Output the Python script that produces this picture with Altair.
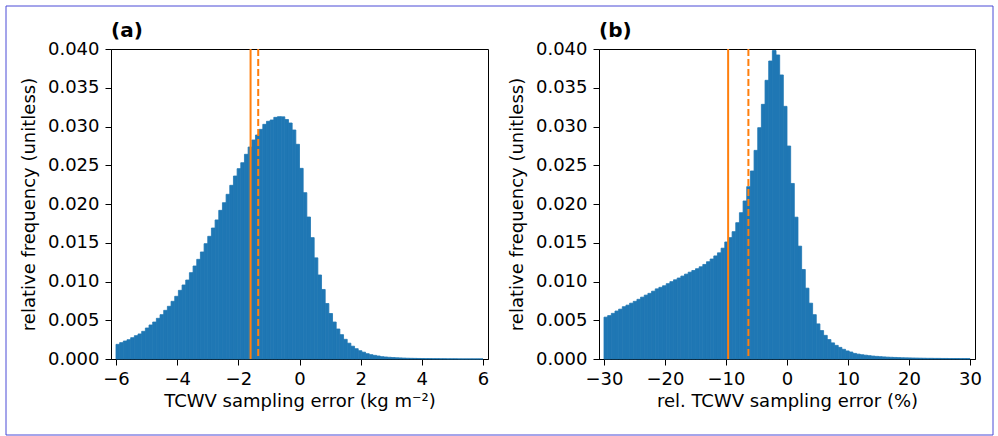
import altair as alt
import pandas as pd

# ---- data -------------------------------------------------------------
# panel (a): TCWV sampling error, 100 bins between -6 and 6
freq_a = [
    0.00189, 0.00211, 0.00232, 0.00249, 0.00275, 0.00301, 0.00323, 0.00357, 0.00400, 0.00439,
    0.00477, 0.00525, 0.00572, 0.00628, 0.00680, 0.00744, 0.00809, 0.00886, 0.00955, 0.01019,
    0.01114, 0.01200, 0.01286, 0.01381, 0.01488, 0.01583, 0.01690, 0.01794, 0.01918, 0.02017,
    0.02125, 0.02241, 0.02361, 0.02456,
    0.02533, 0.02641, 0.02735, 0.02826, 0.02890, 0.02963, 0.03028, 0.03067, 0.03084, 0.03118,
    0.03127, 0.03125, 0.03090, 0.03045, 0.02955, 0.02770,
    0.02460, 0.02146, 0.01832, 0.01566, 0.01305, 0.01084, 0.00897, 0.00716, 0.00587, 0.00477,
    0.00387, 0.00314, 0.00254, 0.00204, 0.00165, 0.00133, 0.00107, 0.00088, 0.00069, 0.00056,
    0.00047, 0.00039, 0.00030,
    0.00026, 0.00022, 0.00019, 0.00016, 0.00014, 0.00012, 0.00010, 0.00009, 0.00008, 0.00007,
    0.00006, 0.00005, 0.00005, 0.00004, 0.00004, 0.00003, 0.00003, 0.00002, 0.00002, 0.00002,
    0.00001, 0.00001, 0.00001, 0.00001, 0.00001, 0.00001, 0.00001,
]
# panel (b): relative TCWV sampling error, 100 bins between -30 and 30
freq_b = [
    0.00540, 0.00560, 0.00589, 0.00619, 0.00643, 0.00675, 0.00695, 0.00720, 0.00744, 0.00770,
    0.00798, 0.00824, 0.00847, 0.00875, 0.00905, 0.00925, 0.00945, 0.00972, 0.00998, 0.01022,
    0.01045, 0.01070, 0.01095, 0.01120, 0.01142,
    0.01165, 0.01190, 0.01220, 0.01255, 0.01290, 0.01330, 0.01370, 0.01430, 0.01510,
    0.01566, 0.01643, 0.01759, 0.01888, 0.02039, 0.02224, 0.02426, 0.02692, 0.02985, 0.03286,
    0.03596, 0.03845, 0.03980, 0.03923, 0.03665, 0.03260, 0.02748, 0.02265, 0.01830, 0.01456,
    0.01155, 0.00914, 0.00720, 0.00572, 0.00453, 0.00367, 0.00305, 0.00251, 0.00208, 0.00176,
    0.00150, 0.00125, 0.00104, 0.00090,
    0.00072, 0.00063, 0.00055, 0.00049, 0.00043, 0.00038, 0.00034, 0.00030, 0.00027, 0.00024,
    0.00022, 0.00020, 0.00018, 0.00016, 0.00015, 0.00014, 0.00013, 0.00012, 0.00011, 0.00010,
    0.00009, 0.00009, 0.00008, 0.00008, 0.00007, 0.00007, 0.00006, 0.00006, 0.00006, 0.00005,
    0.00005, 0.00005,
]
range_a = [-6, 6]
range_b = [-30, 30]
lines_a = [-1.60, -1.35]      # solid, dashed
lines_b = [-9.65, -6.33]
xticks_a = [-6, -4, -2, 0, 2, 4, 6]
xticks_b = [-30, -20, -10, 0, 10, 20, 30]
yticks = [0.0, 0.005, 0.01, 0.015, 0.02, 0.025, 0.03, 0.035, 0.04]
xtitle_a = "TCWV sampling error (kg m\u207b\u00b2)"
xtitle_b = "rel. TCWV sampling error (%)"
ytitle = "relative frequency (unitless)"

BLUE = "#1f77b4"
ORANGE = "#ff7f0e"
FONT = "DejaVu Sans"
LABEL_SIZE = 18
TITLE_SIZE = 18


def panel(freqs, xr, lines, xticks, xtitle, label, width, border=False):
    n = len(freqs)
    w = (xr[1] - xr[0]) / n
    df = pd.DataFrame({
        "x0": [xr[0] + i * w for i in range(n)],
        "x1": [xr[0] + (i + 1) * w for i in range(n)],
        "f": freqs,
    })
    xs = alt.Scale(domain=xr, nice=False, zero=False)
    bars = alt.Chart(df).mark_bar(color=BLUE, orient="vertical",
                                  stroke=BLUE, strokeWidth=0.8).encode(
        x=alt.X("x0:Q", scale=xs, title=xtitle,
                axis=alt.Axis(values=xticks, grid=False, labelPadding=5,
                              titlePadding=4)),
        x2="x1:Q",
        y=alt.Y("f:Q", scale=alt.Scale(domain=[0, 0.04], nice=False),
                title=ytitle,
                axis=alt.Axis(values=yticks, format=".3f", grid=False,
                              labelPadding=6, titlePadding=9)),
        y2=alt.datum(0),
    )
    solid = alt.Chart(pd.DataFrame({"v": [lines[0]]})).mark_rule(
        color=ORANGE, strokeWidth=2).encode(x=alt.X("v:Q", scale=xs, title=xtitle))
    dashed = alt.Chart(pd.DataFrame({"v": [lines[1]]})).mark_rule(
        color=ORANGE, strokeWidth=2, strokeDash=[7, 3]).encode(
        x=alt.X("v:Q", scale=xs, title=xtitle))
    tag = alt.Chart(pd.DataFrame({"t": [label]})).mark_text(
        align="left", baseline="alphabetic", font=FONT, fontSize=20,
        fontWeight="bold", color="black").encode(
        text="t:N", x=alt.value(0), y=alt.value(-12.5))
    layers = [bars, solid, dashed, tag]
    if border:
        frame = alt.Chart(pd.DataFrame({"d": [0]})).mark_rect(
            filled=False, stroke="#4b4bd6", strokeWidth=1).encode(
            x=alt.value(-105), x2=alt.value(882),
            y=alt.value(-43), y2=alt.value(386))
        layers.append(frame)
    return alt.layer(*layers).properties(width=width, height=310)


pa = panel(freq_a, range_a, lines_a, xticks_a, xtitle_a, "(a)", 377, border=True)
pb = panel(freq_b, range_b, lines_b, xticks_b, xtitle_b, "(b)", 376)

chart = alt.hconcat(pa, pb, spacing=111, bounds="flush").properties(
    padding={"left": 5, "top": 5, "right": 0, "bottom": 0},
    background="white",
).configure_view(
    stroke="black", strokeWidth=1,
).configure_axis(
    labelFont=FONT, titleFont=FONT, labelFontSize=LABEL_SIZE, titleFontSize=TITLE_SIZE,
    titleFontWeight="normal", labelColor="black", titleColor="black",
    domainColor="black", tickColor="black", tickSize=6, tickWidth=1,
    domainWidth=1, labelFlush=False,
)

chart.save("out.html", embed_options={"renderer": "svg", "actions": False})
